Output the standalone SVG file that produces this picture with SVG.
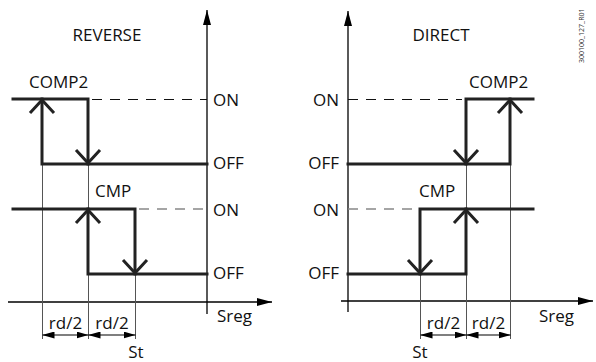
<svg xmlns="http://www.w3.org/2000/svg" width="596" height="362" viewBox="0 0 596 362">
<defs>
<marker id="axh" viewBox="0 0 15 8" refX="15" refY="4" markerWidth="15" markerHeight="8" markerUnits="userSpaceOnUse" orient="auto"><path d="M0,0 L15,4 L0,8 Z" fill="#000"/></marker>
<marker id="dim" viewBox="0 0 12 7" refX="12" refY="3.5" markerWidth="12" markerHeight="7" markerUnits="userSpaceOnUse" orient="auto-start-reverse"><path d="M0,0 L12,3.5 L0,7 Z" fill="#000"/></marker>
</defs>
<style>
text{font-family:"Open Sans","Liberation Sans",sans-serif;font-size:17px;fill:#111}
.axis{stroke:#000;stroke-width:1.3;fill:none}
.thick{stroke:#222;stroke-width:3;fill:none;stroke-linecap:square}
.chev{stroke:#222;stroke-width:3;fill:none;stroke-linecap:butt;stroke-linejoin:miter}
.thin{stroke:#555;stroke-width:1;fill:none}
.dash{stroke:#111;stroke-width:1;stroke-dasharray:10 8;fill:none}
.dashg{stroke:#888;stroke-width:1.3;stroke-dasharray:10 8;fill:none}
.dimline{stroke:#000;stroke-width:1.2;fill:none}
</style>
<g id="connectors">
<line class="axis" x1="207" y1="314" x2="207" y2="10" marker-end="url(#axh)"/>
<line class="axis" x1="8" y1="302" x2="272" y2="302" marker-end="url(#axh)"/>
<line class="axis" x1="348" y1="312" x2="348" y2="11" marker-end="url(#axh)"/>
<line class="axis" x1="341" y1="301" x2="593" y2="301" marker-end="url(#axh)"/>
<line class="thin" x1="42.5" y1="164" x2="42.5" y2="339"/>
<line class="thin" x1="88.5" y1="164" x2="88.5" y2="339"/>
<line class="thin" x1="135.5" y1="274" x2="135.5" y2="339"/>
<line class="thin" x1="466.5" y1="164" x2="466.5" y2="339"/>
<line class="thin" x1="510.5" y1="164" x2="510.5" y2="339"/>
<line class="thin" x1="420.5" y1="274" x2="420.5" y2="339"/>
<line class="dash" x1="92" y1="99.5" x2="207" y2="99.5"/>
<line class="dashg" x1="139" y1="209" x2="207" y2="209"/>
<line class="dash" x1="348" y1="99.5" x2="462" y2="99.5"/>
<line class="dashg" x1="348" y1="209" x2="416" y2="209"/>
<line class="dimline" x1="42.5" y1="335" x2="88.5" y2="335" marker-start="url(#dim)" marker-end="url(#dim)"/>
<line class="dimline" x1="88.5" y1="335" x2="135.5" y2="335" marker-start="url(#dim)" marker-end="url(#dim)"/>
<line class="dimline" x1="420.5" y1="335" x2="466.5" y2="335" marker-start="url(#dim)" marker-end="url(#dim)"/>
<line class="dimline" x1="466.5" y1="335" x2="510.5" y2="335" marker-start="url(#dim)" marker-end="url(#dim)"/>
</g>
<g id="reverse-comp2">
<polyline class="thick" points="13,99 88,99 88,164"/>
<polyline class="thick" points="42,99 42,164 207,164"/>
<polyline class="chev" points="30,113 42,100 54,113"/>
<polyline class="chev" points="76,150 88,163 100,150"/>
</g>
<g id="reverse-cmp">
<polyline class="thick" points="13,209 135,209 135,274"/>
<polyline class="thick" points="88,209 88,274 207,274"/>
<polyline class="chev" points="76,223 88,210 100,223"/>
<polyline class="chev" points="123,260 135,273 147,260"/>
</g>
<g id="direct-comp2">
<polyline class="thick" points="533,99 466,99 466,164"/>
<polyline class="thick" points="348,164 510,164 510,99"/>
<polyline class="chev" points="498,113 510,100 522,113"/>
<polyline class="chev" points="454,150 466,163 478,150"/>
</g>
<g id="direct-cmp">
<polyline class="thick" points="533,209 420,209 420,274"/>
<polyline class="thick" points="348,274 466,274 466,209"/>
<polyline class="chev" points="454,223 466,210 478,223"/>
<polyline class="chev" points="408,260 420,273 432,260"/>
</g>
<g id="labels">
<text x="107" y="41" text-anchor="middle">REVERSE</text>
<text x="441" y="41" text-anchor="middle">DIRECT</text>
<text x="29" y="88">COMP2</text>
<text x="469" y="88">COMP2</text>
<text x="95" y="197">CMP</text>
<text x="419" y="197">CMP</text>
<text x="213" y="106">ON</text>
<text x="213" y="169">OFF</text>
<text x="213" y="216">ON</text>
<text x="213" y="279">OFF</text>
<text x="339" y="106" text-anchor="end">ON</text>
<text x="339" y="169" text-anchor="end">OFF</text>
<text x="339" y="216" text-anchor="end">ON</text>
<text x="339" y="279" text-anchor="end">OFF</text>
<text x="217" y="322">Sreg</text>
<text x="539" y="322">Sreg</text>
<text x="65.5" y="329" text-anchor="middle">rd/2</text>
<text x="112" y="329" text-anchor="middle">rd/2</text>
<text x="443.5" y="329" text-anchor="middle">rd/2</text>
<text x="488.5" y="329" text-anchor="middle">rd/2</text>
<text x="136" y="358" text-anchor="middle">St</text>
<text x="420" y="358" text-anchor="middle">St</text>
<text x="584" y="63" transform="rotate(-90 584 63)" style="font-size:7px;fill:#333">300100_127_R01</text>
</g>
</svg>
